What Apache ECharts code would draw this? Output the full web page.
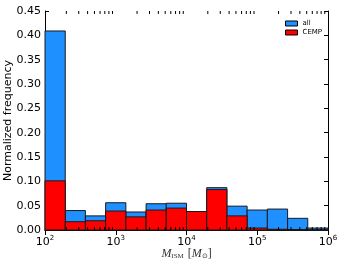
<!DOCTYPE html>
<html>
<head>
<meta charset="utf-8">
<script src="https://cdn.jsdelivr.net/npm/echarts@6/dist/echarts.min.js"></script>
<style>html,body{margin:0;padding:0;background:#fff}#c{width:345px;height:267px}</style>
</head>
<body>
<div id="c"></div>
<script>
// bin edges in log10(M_ISM)
var binEdgesLog = [2, 2.286, 2.571, 2.857, 3.143, 3.429, 3.714, 4, 4.286, 4.571, 4.857, 5.143, 5.429, 5.714, 6];
var allVals  = [0.409, 0.040, 0.029, 0.056, 0.037, 0.054, 0.055, 0.038, 0.087, 0.049, 0.041, 0.043, 0.024, 0.004];
var cempVals = [0.101, 0.017, 0.019, 0.039, 0.027, 0.041, 0.045, 0.038, 0.083, 0.029, 0.004, 0.0015, 0.001, 0.0];
var seriesNames = ['all', 'CEMP'];
var decades = [2, 3, 4, 5];
var minorMult = [2, 3, 4, 5, 6, 7, 8, 9];

function binData(vals) {
  return vals.map(function (v, i) { return [binEdgesLog[i], binEdgesLog[i + 1], v]; });
}
var minorTicks = [];
decades.forEach(function (d) { minorMult.forEach(function (m) { minorTicks.push([d + Math.log10(m)]); }); });

function barRender(color) {
  return function (params, api) {
    var p0 = api.coord([api.value(0), api.value(2)]);
    var p1 = api.coord([api.value(1), 0]);
    return {
      type: 'rect',
      shape: { x: p0[0], y: p0[1], width: p1[0] - p0[0], height: p1[1] - p0[1] },
      style: { fill: color, stroke: '#1a1a1a', lineWidth: 1 }
    };
  };
}

var chart = echarts.init(document.getElementById('c'), null, { renderer: 'canvas' });
var axisFont = 'DejaVu Sans';
chart.setOption({
  animation: false,
  textStyle: { fontFamily: axisFont },
  grid: { left: 45, right: 17, top: 11, bottom: 37, containLabel: false, outerBoundsMode: 'none' },
  legend: {
    data: seriesNames,
    orient: 'vertical',
    left: 280, top: 15,
    itemWidth: 12, itemHeight: 5, itemGap: 2,
    icon: 'rect',
    textStyle: { fontSize: 7, color: '#000', fontFamily: axisFont, padding: [0, 0, 0, 0] },
    itemStyle: { borderColor: '#000', borderWidth: 1 }
  },
  xAxis: [{
    type: 'value', min: 2, max: 6, interval: 1,
    axisLine: { show: true, lineStyle: { color: '#000', width: 1 } },
    axisTick: { show: true, inside: true, length: 5, lineStyle: { color: '#000' } },
    splitLine: { show: false },
    axisLabel: {
      margin: 5,
      formatter: function (v) { return '{b|10}{s|' + Math.round(v) + '}'; },
      rich: {
        b: { fontSize: 11, color: '#000', fontFamily: axisFont },
        s: { fontSize: 7, color: '#000', fontFamily: axisFont, verticalAlign: 'top', padding: [0, 0, 7, 0] }
      }
    },
    name: '{i|M}{sub|ISM} {r|[}{i|M}{sub|\u2299}{r|]}',
    nameLocation: 'middle', nameGap: 18, nameMoveOverlap: false,
    nameTextStyle: {
      rich: {
        i: { fontSize: 12, fontStyle: 'italic', fontFamily: 'Liberation Serif', color: '#333' },
        sub: { fontSize: 7, fontFamily: 'Liberation Serif', color: '#333', verticalAlign: 'bottom', padding: [5, 0, 0, 0] },
        r: { fontSize: 12, fontFamily: 'Liberation Serif', color: '#333' }
      }
    }
  }, {
    type: 'value', min: 2, max: 6, interval: 1, position: 'top',
    axisLine: { show: true, lineStyle: { color: '#000', width: 1 } },
    axisTick: { show: true, inside: true, length: 5, lineStyle: { color: '#000' } },
    axisLabel: { show: false }, splitLine: { show: false }
  }],
  yAxis: [{
    type: 'value', min: 0, max: 0.45, interval: 0.05,
    axisLine: { show: true, lineStyle: { color: '#000', width: 1 } },
    axisTick: { show: true, inside: true, length: 4, lineStyle: { color: '#000' } },
    splitLine: { show: false },
    axisLabel: { fontSize: 11, color: '#000', margin: 4, formatter: function (v) { return v.toFixed(2); } },
    name: 'Normalized frequency', nameLocation: 'middle', nameGap: 31, nameMoveOverlap: false,
    nameTextStyle: { fontSize: 11, color: '#000' }
  }, {
    type: 'value', min: 0, max: 0.45, interval: 0.05, position: 'right',
    axisLine: { show: true, lineStyle: { color: '#000', width: 1 } },
    axisTick: { show: true, inside: true, length: 4, lineStyle: { color: '#000' } },
    axisLabel: { show: false }, splitLine: { show: false }
  }],
  series: [{
    name: 'all', type: 'custom', xAxisIndex: 0, yAxisIndex: 0,
    itemStyle: { color: '#1E90FF', borderColor: '#000', borderWidth: 1 },
    renderItem: barRender('#1E90FF'),
    encode: { x: [0, 1], y: 2 },
    data: binData(allVals)
  }, {
    name: 'CEMP', type: 'custom', xAxisIndex: 0, yAxisIndex: 0,
    itemStyle: { color: '#FF0000', borderColor: '#000', borderWidth: 1 },
    renderItem: barRender('#FF0000'),
    encode: { x: [0, 1], y: 2 },
    data: binData(cempVals)
  }, {
    name: 'minor', type: 'custom', xAxisIndex: 0, yAxisIndex: 0, silent: true, z: 10,
    renderItem: function (params, api) {
      var x = api.coord([api.value(0), 0])[0];
      var cs = params.coordSys;
      var yb = cs.y + cs.height, yt = cs.y;
      return {
        type: 'group',
        children: [
          { type: 'line', shape: { x1: x, y1: yb, x2: x, y2: yb - 3 }, style: { stroke: '#000', lineWidth: 1 } },
          { type: 'line', shape: { x1: x, y1: yt, x2: x, y2: yt + 3 }, style: { stroke: '#000', lineWidth: 1 } }
        ]
      };
    },
    encode: { x: 0 },
    data: minorTicks
  }]
});
</script>
</body>
</html>
